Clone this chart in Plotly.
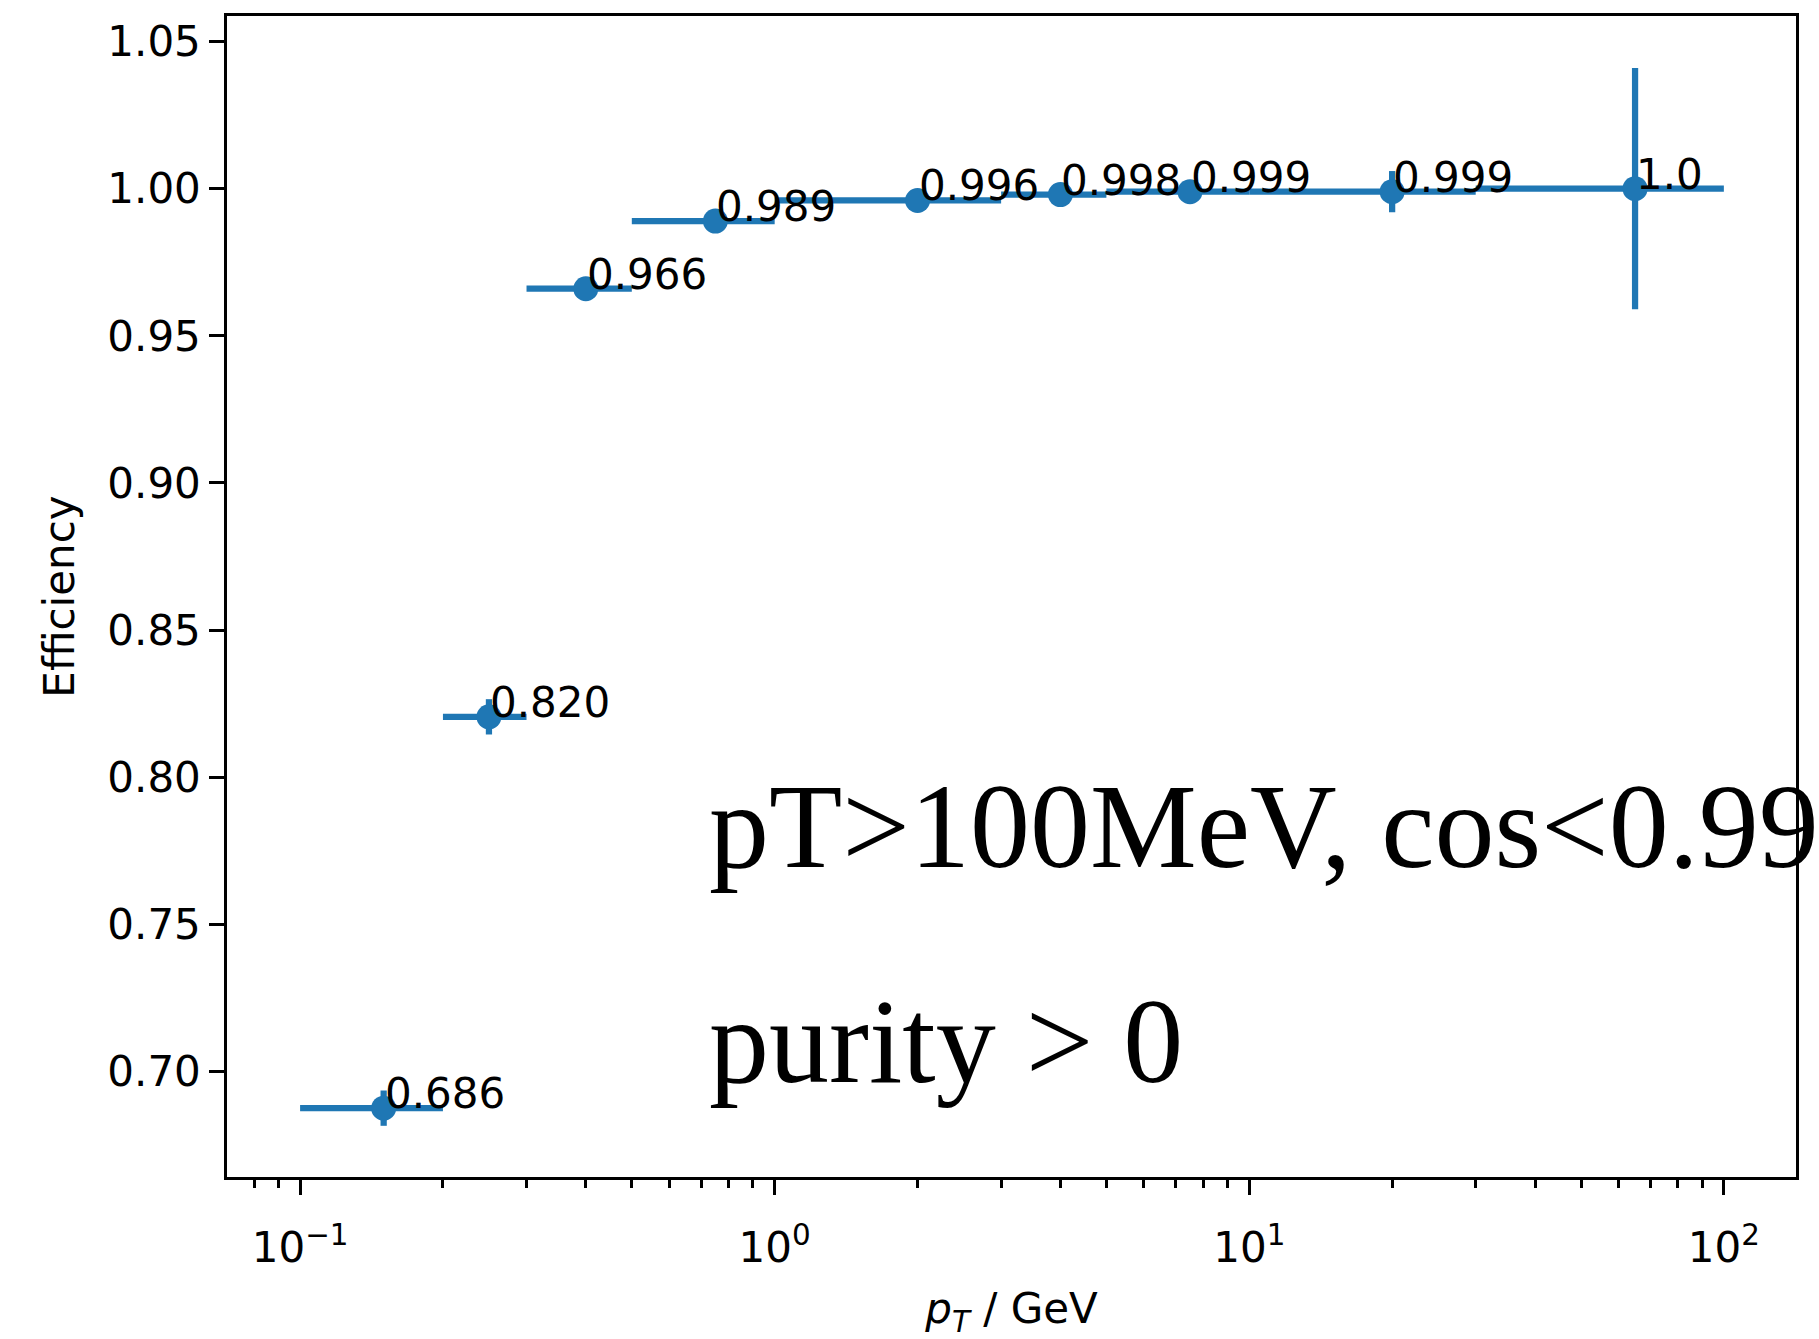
import math
import plotly.graph_objects as go

# ---- data ----
bin_lo = [0.1, 0.2, 0.3, 0.5, 1.0, 3.0, 5.0, 10.0, 30.0]
bin_hi = [0.2, 0.3, 0.5, 1.0, 3.0, 5.0, 10.0, 30.0, 100.0]
efficiency = [0.6875, 0.8205, 0.966, 0.989, 0.996, 0.998, 0.999, 0.999, 1.0]
eff_err = [0.006, 0.006, 0.003, 0.002, 0.001, 0.001, 0.001, 0.007, 0.041]
labels = ["0.686", "0.820", "0.966", "0.989", "0.996", "0.998", "0.999", "0.999", "1.0"]

x_tickvals = [0.1, 1, 10, 100]
x_ticktext = ["10<sup>\u22121</sup>", "10<sup>0</sup>", "10<sup>1</sup>", "10<sup>2</sup>"]
y_tickvals = [0.70, 0.75, 0.80, 0.85, 0.90, 0.95, 1.00, 1.05]

overlay_lines = ["pT>100MeV, cos<0.99", "purity > 0"]

# ---- derived ----
centers = [(lo + hi) / 2 for lo, hi in zip(bin_lo, bin_hi)]
err_plus = [hi - c for hi, c in zip(bin_hi, centers)]
err_minus = [c - lo for lo, c in zip(bin_lo, centers)]

minor_vals = []
for d in [0.01, 0.1, 1, 10, 100]:
    for k in range(2, 10):
        minor_vals.append(k * d)

BLUE = "#1f77b4"
W, H = 1819, 1339
L, R, T, B = 227, 1796, 16, 1177

fig = go.Figure()
fig.add_trace(go.Scatter(
    x=centers, y=efficiency, mode="markers",
    marker=dict(size=25, color=BLUE, line=dict(width=0)),
    error_x=dict(type="data", symmetric=False, array=err_plus, arrayminus=err_minus,
                 color=BLUE, thickness=6.25, width=0),
    error_y=dict(type="data", array=eff_err, color=BLUE, thickness=6.25, width=0),
    showlegend=False,
))

for xc, yv, lab in zip(centers, efficiency, labels):
    fig.add_annotation(x=math.log10(xc), y=yv, xref="x", yref="y", text=lab, showarrow=False,
                       xanchor="left", yanchor="middle", yshift=14.5, borderpad=0,
                       font=dict(family="DejaVu Sans", size=42, color="black"))

def px_to_paper_x(px):
    return (px - L) / (R - L)

def px_to_paper_y(py):
    return (B - py) / (B - T)

overlay_center_y = [826, 1041]
for txt, cy in zip(overlay_lines, overlay_center_y):
    fig.add_annotation(x=px_to_paper_x(708), y=px_to_paper_y(cy), xref="paper", yref="paper",
                       text=txt, showarrow=False, xanchor="left", yanchor="middle", borderpad=0,
                       font=dict(family="Liberation Serif", size=120, color="black"))

axis_common = dict(
    showline=True, linecolor="black", linewidth=3.3, mirror=True,
    ticks="outside", ticklen=14.6, tickwidth=3.3, tickcolor="black",
    showgrid=False, zeroline=False,
    tickfont=dict(family="DejaVu Sans", size=42, color="black"),
)

fig.update_xaxes(
    type="log", range=[-1.154, 2.152],
    tickvals=x_tickvals, ticktext=x_ticktext, ticklabelstandoff=17,
    minor=dict(ticks="outside", ticklen=8.3, tickwidth=2.5, tickcolor="black",
               tickvals=minor_vals, showgrid=False),
    title=dict(text="<i>p</i><sub><i>T</i></sub> / GeV",
               font=dict(family="DejaVu Sans", size=42, color="black"), standoff=25),
    **axis_common,
)
fig.update_yaxes(
    range=[0.6641, 1.0587], tickvals=y_tickvals, tickformat=".2f",
    title=dict(text="Efficiency", font=dict(family="DejaVu Sans", size=42, color="black"),
               standoff=20),
    **axis_common,
)

fig.update_layout(
    width=W, height=H,
    margin=dict(l=L, r=W - R, t=T, b=H - B, pad=0),
    paper_bgcolor="white", plot_bgcolor="white",
    font=dict(family="DejaVu Sans", size=42, color="black"),
)

fig.write_html("out.html", config={"displayModeBar": False},
               post_script="document.body.style.margin='0';")
